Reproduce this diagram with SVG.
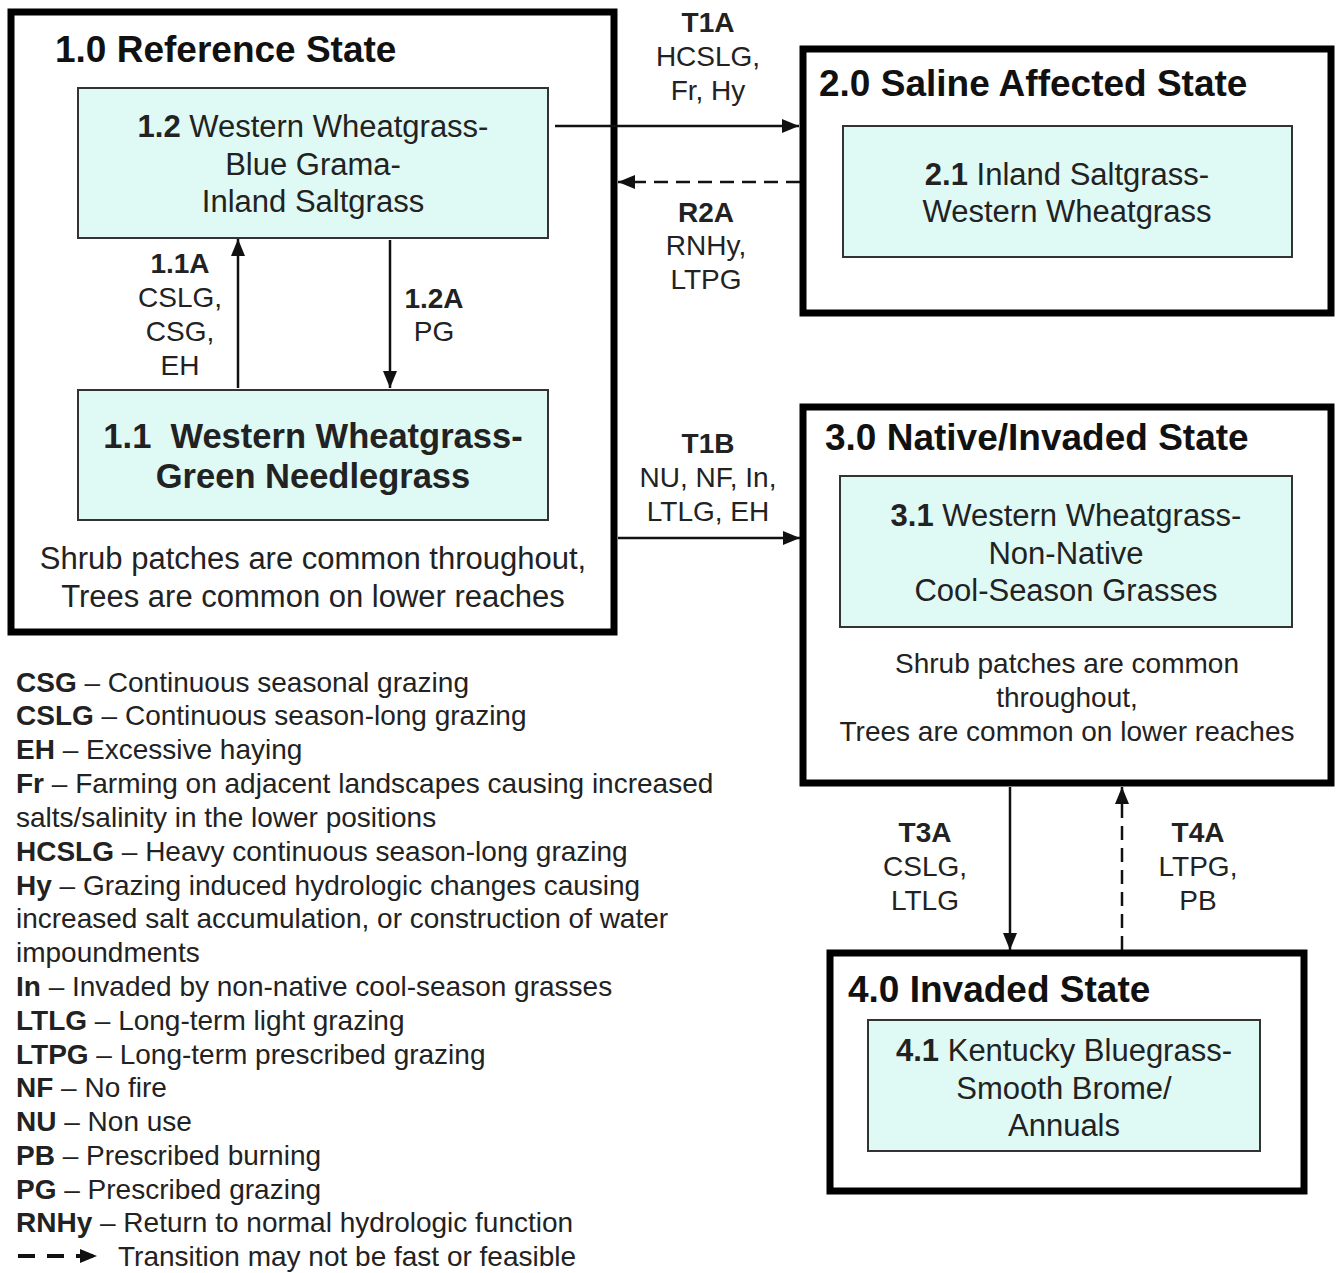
<svg xmlns="http://www.w3.org/2000/svg" width="1338" height="1273" viewBox="0 0 1338 1273">
<style>
text{font-family:"Liberation Sans",Arial,sans-serif;fill:#222}
.state{fill:#fff;stroke:#000;stroke-width:7}
.comm{fill:#dff9f4;stroke:#333;stroke-width:2}
.title{font-size:37px;font-weight:bold;fill:#111}
.ct{font-size:31px;text-anchor:middle}
.lbl{font-size:28px;text-anchor:middle}
.b{font-weight:bold}
.leg{font-size:28px}
.conn{stroke:#111;stroke-width:2.5;fill:none}
.dash{stroke-dasharray:14 8}
</style>
<defs>
<marker id="ah" markerUnits="userSpaceOnUse" markerWidth="18" markerHeight="16" refX="17" refY="8" orient="auto">
<path d="M0,1 L17,8 L0,15 Z" fill="#111"/>
</marker>
</defs>
<rect width="1338" height="1273" fill="#fff"/>

<g id="state1">
<rect class="state" x="11" y="12" width="603" height="620"/>
<text class="title" x="55" y="62">1.0 Reference State</text>
<text class="ct" x="313" y="569">Shrub patches are common throughout,</text>
<text class="ct" x="313" y="607">Trees are common on lower reaches</text>
</g>
<g id="c12">
<rect class="comm" x="78" y="88" width="470" height="150"/>
<text class="ct" x="313" y="137"><tspan class="b">1.2</tspan> Western Wheatgrass-</text>
<text class="ct" x="313" y="175">Blue Grama-</text>
<text class="ct" x="313" y="212">Inland Saltgrass</text>
</g>
<g id="c11">
<rect class="comm" x="78" y="390" width="470" height="130"/>
<text class="ct b" x="313" y="448" style="font-size:34.5px">1.1&#160; Western Wheatgrass-</text>
<text class="ct b" x="313" y="488" style="font-size:34.5px">Green Needlegrass</text>
</g>

<g id="state2">
<rect class="state" x="803" y="49" width="528" height="264"/>
<text class="title" x="819" y="96">2.0 Saline Affected State</text>
</g>
<g id="c21">
<rect class="comm" x="843" y="126" width="449" height="131"/>
<text class="ct" x="1067" y="185"><tspan class="b">2.1</tspan> Inland Saltgrass-</text>
<text class="ct" x="1067" y="222">Western Wheatgrass</text>
</g>

<g id="state3">
<rect class="state" x="803" y="407" width="528" height="376"/>
<text class="title" x="825" y="450">3.0 Native/Invaded State</text>
<text class="ct" x="1067" y="673" style="font-size:28px">Shrub patches are common</text>
<text class="ct" x="1067" y="707" style="font-size:28px">throughout,</text>
<text class="ct" x="1067" y="741" style="font-size:28px">Trees are common on lower reaches</text>
</g>
<g id="c31">
<rect class="comm" x="840" y="476" width="452" height="151"/>
<text class="ct" x="1066" y="526"><tspan class="b">3.1</tspan> Western Wheatgrass-</text>
<text class="ct" x="1066" y="564">Non-Native</text>
<text class="ct" x="1066" y="601">Cool-Season Grasses</text>
</g>

<g id="state4">
<rect class="state" x="830" y="953" width="474" height="238"/>
<text class="title" x="848" y="1002">4.0 Invaded State</text>
</g>
<g id="c41">
<rect class="comm" x="868" y="1020" width="392" height="131"/>
<text class="ct" x="1064" y="1061"><tspan class="b">4.1</tspan> Kentucky Bluegrass-</text>
<text class="ct" x="1064" y="1099">Smooth Brome/</text>
<text class="ct" x="1064" y="1136">Annuals</text>
</g>

<g id="connectors">
<line class="conn" x1="238" y1="388" x2="238" y2="239" marker-end="url(#ah)"/>
<line class="conn" x1="390" y1="240" x2="390" y2="388" marker-end="url(#ah)"/>
<line class="conn" x1="555" y1="126" x2="799" y2="126" marker-end="url(#ah)"/>
<line class="conn dash" x1="800" y1="182" x2="618" y2="182" marker-end="url(#ah)"/>
<line class="conn" x1="618" y1="538" x2="800" y2="538" marker-end="url(#ah)"/>
<line class="conn" x1="1010" y1="787" x2="1010" y2="950" marker-end="url(#ah)"/>
<line class="conn dash" x1="1122" y1="950" x2="1122" y2="787" marker-end="url(#ah)"/>
</g>

<g id="labels">
<text class="lbl b" x="180" y="273">1.1A</text>
<text class="lbl" x="180" y="307">CSLG,</text>
<text class="lbl" x="180" y="341">CSG,</text>
<text class="lbl" x="180" y="375">EH</text>
<text class="lbl b" x="434" y="308">1.2A</text>
<text class="lbl" x="434" y="341">PG</text>
<text class="lbl b" x="708" y="32">T1A</text>
<text class="lbl" x="708" y="66">HCSLG,</text>
<text class="lbl" x="708" y="100">Fr, Hy</text>
<text class="lbl b" x="706" y="222">R2A</text>
<text class="lbl" x="706" y="255">RNHy,</text>
<text class="lbl" x="706" y="289">LTPG</text>
<text class="lbl b" x="708" y="453">T1B</text>
<text class="lbl" x="708" y="487">NU, NF, In,</text>
<text class="lbl" x="708" y="521">LTLG, EH</text>
<text class="lbl b" x="925" y="842">T3A</text>
<text class="lbl" x="925" y="876">CSLG,</text>
<text class="lbl" x="925" y="910">LTLG</text>
<text class="lbl b" x="1198" y="842">T4A</text>
<text class="lbl" x="1198" y="876">LTPG,</text>
<text class="lbl" x="1198" y="910">PB</text>
</g>

<g id="legend">
<text class="leg" x="16" y="692"><tspan class="b">CSG</tspan> – Continuous seasonal grazing</text>
<text class="leg" x="16" y="725"><tspan class="b">CSLG</tspan> – Continuous season-long grazing</text>
<text class="leg" x="16" y="759"><tspan class="b">EH</tspan> – Excessive haying</text>
<text class="leg" x="16" y="793"><tspan class="b">Fr</tspan> – Farming on adjacent landscapes causing increased</text>
<text class="leg" x="16" y="827">salts/salinity in the lower positions</text>
<text class="leg" x="16" y="861"><tspan class="b">HCSLG</tspan> – Heavy continuous season-long grazing</text>
<text class="leg" x="16" y="895"><tspan class="b">Hy</tspan> – Grazing induced hydrologic changes causing</text>
<text class="leg" x="16" y="928">increased salt accumulation, or construction of water</text>
<text class="leg" x="16" y="962">impoundments</text>
<text class="leg" x="16" y="996"><tspan class="b">In</tspan> – Invaded by non-native cool-season grasses</text>
<text class="leg" x="16" y="1030"><tspan class="b">LTLG</tspan> – Long-term light grazing</text>
<text class="leg" x="16" y="1064"><tspan class="b">LTPG</tspan> – Long-term prescribed grazing</text>
<text class="leg" x="16" y="1097"><tspan class="b">NF</tspan> – No fire</text>
<text class="leg" x="16" y="1131"><tspan class="b">NU</tspan> – Non use</text>
<text class="leg" x="16" y="1165"><tspan class="b">PB</tspan> – Prescribed burning</text>
<text class="leg" x="16" y="1199"><tspan class="b">PG</tspan> – Prescribed grazing</text>
<text class="leg" x="16" y="1232"><tspan class="b">RNHy</tspan> – Return to normal hydrologic function</text>
<line x1="18" y1="1256" x2="97" y2="1256" stroke="#111" stroke-width="4" stroke-dasharray="17 12" marker-end="url(#ah)"/>
<text class="leg" x="118" y="1266">Transition may not be fast or feasible</text>
</g>
</svg>
